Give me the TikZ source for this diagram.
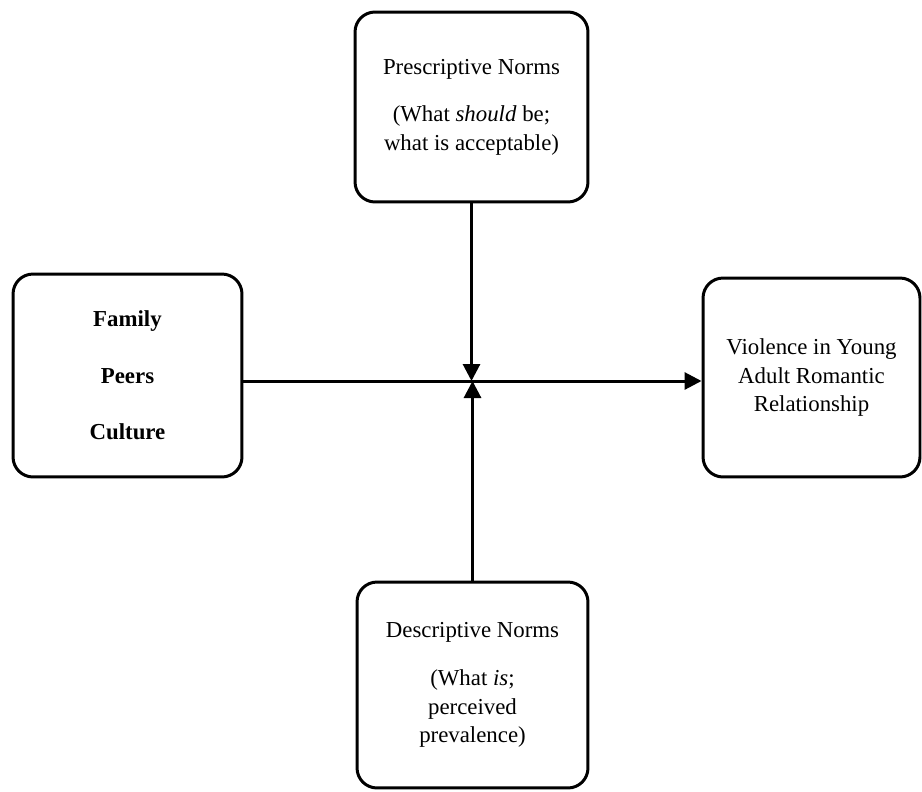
\documentclass[tikz,border=0pt]{standalone}
\usepackage{fontspec}
\setmainfont{Liberation Serif}
\usetikzlibrary{arrows.meta,positioning}

\begin{document}
\begin{tikzpicture}[x=0.02cm, y=-0.02cm, line width=1.7pt,
  every node/.style={draw, rounded corners=0.4cm, align=center, font=\fontsize{13}{16.2}\selectfont},
  >={Triangle[length=3.4mm, width=3.4mm]}]

\useasboundingbox (0,0) rectangle (922,791);

\coordinate (hub) at (472,381);

\node[minimum width=4.66cm, minimum height=3.8cm] (presc) at (471.5,107)
   {Prescriptive Norms\\[11pt](What \textit{should} be;\\what is acceptable)};
\node[minimum width=4.58cm, minimum height=4.06cm, font=\fontsize{13}{16.2}\selectfont\bfseries] (sources) at (127.5,375.5)
   {Family\\[16pt]Peers\\[16pt]Culture};
\node[minimum width=4.34cm, minimum height=3.98cm] (violence) at (811.5,377.5)
   {Violence in Young\\Adult Romantic\\Relationship};
\node[minimum width=4.62cm, minimum height=4.12cm] (descr) at (472.5,685)
   {Descriptive Norms\\[11pt](What \textit{is};\\perceived\\prevalence)};

\draw[->] (sources.east |- hub) -- (violence.west |- hub);
\draw[->] (presc.south) -- (presc.south |- hub);
\draw[->] (descr.north) -- (descr.north |- hub);
\end{tikzpicture}
\end{document}
